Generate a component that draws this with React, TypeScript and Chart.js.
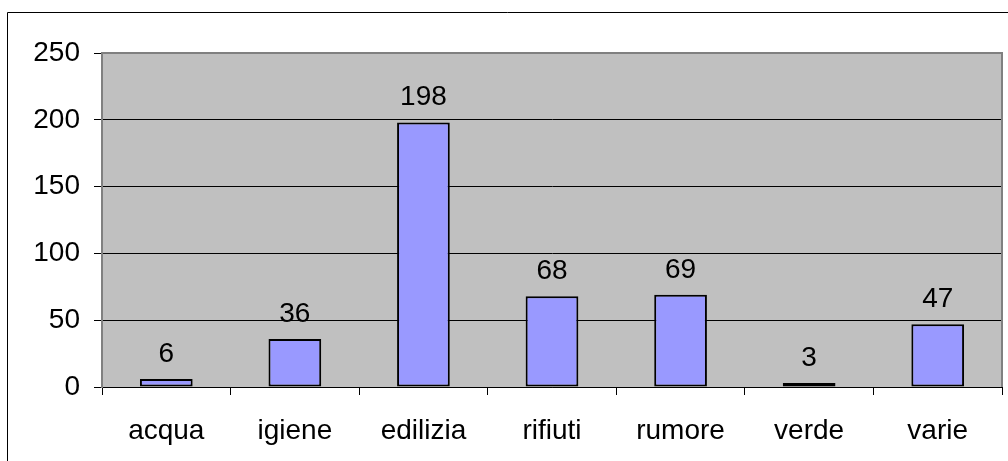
import React, { useEffect, useRef } from "react";
import { Chart, registerables } from "chart.js";

Chart.register(...registerables);

const categories = ["acqua", "igiene", "edilizia", "rifiuti", "rumore", "verde", "varie"];
const values = [6, 36, 198, 68, 69, 3, 47];
const yTicks = [0, 50, 100, 150, 200, 250];

const FONT = "'Liberation Sans', Arial, sans-serif";
const FONT_SIZE = 28;

const decorPlugin = {
  id: "decor",
  beforeDraw(chart: any) {
    const { ctx, chartArea: a } = chart;
    ctx.save();
    ctx.fillStyle = "#C0C0C0";
    ctx.fillRect(a.left, a.top, a.right - a.left, a.bottom - a.top);
    ctx.restore();
  },
  afterDraw(chart: any) {
    const { ctx, chartArea: a } = chart;
    ctx.save();
    ctx.strokeStyle = "#808080";
    ctx.lineWidth = 2;
    ctx.beginPath();
    ctx.moveTo(a.left, a.top);
    ctx.lineTo(a.right, a.top);
    ctx.lineTo(a.right, a.bottom);
    ctx.stroke();
    ctx.strokeStyle = "#000000";
    ctx.lineWidth = 1;
    ctx.beginPath();
    ctx.moveTo(7.5, 461);
    ctx.lineTo(7.5, 12.5);
    ctx.lineTo(1008, 12.5);
    ctx.stroke();
    ctx.restore();
  },
  afterDatasetsDraw(chart: any) {
    const { ctx } = chart;
    const meta = chart.getDatasetMeta(0);
    ctx.save();
    ctx.fillStyle = "#000000";
    ctx.font = `${FONT_SIZE}px ${FONT}`;
    ctx.textAlign = "center";
    ctx.textBaseline = "alphabetic";
    meta.data.forEach((bar: any, i: number) => {
      ctx.fillText(String(values[i]), bar.x, bar.y - 17);
    });
    ctx.restore();
  },
};

export default function App() {
  const ref = useRef<HTMLCanvasElement>(null);
  useEffect(() => {
    if (!ref.current) return;
    const chart = new Chart(ref.current, {
      type: "bar",
      data: {
        labels: categories,
        datasets: [
          {
            data: values,
            backgroundColor: "#9999FF",
            borderColor: "#000000",
            borderWidth: 2,
            borderSkipped: false,
            barPercentage: 0.41,
            categoryPercentage: 1,
          },
        ],
      },
      options: {
        responsive: false,
        animation: false,
        layout: { padding: { left: 0, top: 53, right: 6, bottom: 0 } },
        plugins: { legend: { display: false }, tooltip: { enabled: false } },
        scales: {
          x: {
            grid: {
              offset: true,
              drawOnChartArea: false,
              drawTicks: true,
              tickLength: 8,
              color: "#000000",
            },
            border: { color: "#000000", width: 1 },
            ticks: {
              color: "#000000",
              font: { family: FONT, size: FONT_SIZE },
              padding: 19,
            },
            afterFit(scale: any) {
              scale.height = 74;
            },
          },
          y: {
            min: 0,
            max: 250,
            afterBuildTicks(scale: any) {
              scale.ticks = yTicks.map((v) => ({ value: v }));
            },
            grid: { color: "#000000", lineWidth: 1, tickLength: 8 },
            border: { color: "#808080", width: 2 },
            ticks: {
              color: "#000000",
              font: { family: FONT, size: FONT_SIZE },
              padding: 14,
            },
            afterFit(scale: any) {
              scale.width = 102;
            },
          },
        },
      },
      plugins: [decorPlugin],
    });
    return () => chart.destroy();
  }, []);
  return (
    <div style={{ position: "absolute", left: 0, top: 0, width: 1008, height: 461, background: "#fff" }}>
      <canvas ref={ref} width={1008} height={461} style={{ display: "block" }} />
    </div>
  );
}
